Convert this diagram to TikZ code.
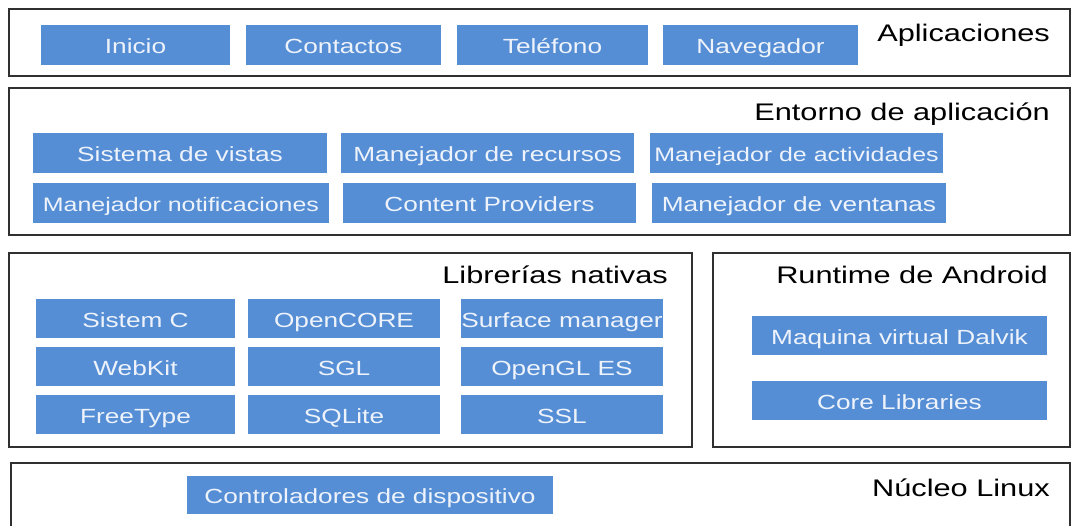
\documentclass[tikz,border=0pt]{standalone}
\usepackage{fontspec}
\usepackage{tikz}
\usetikzlibrary{positioning}
\newfontfamily\archfont{Liberation Sans}[FakeStretch=1.28]
\newcommand{\blkfont}{\archfont\fontsize{20.5}{22}\selectfont}
\newcommand{\tightfont}{\archfont\fontsize{19.5}{21}\selectfont}
\newcommand{\layerfont}{\archfont\fontsize{24}{27}\selectfont}
\definecolor{boxblue}{HTML}{558ED5}
\definecolor{boxtext}{HTML}{EEF3FB}
\definecolor{framegray}{HTML}{303030}

\begin{document}
\begin{tikzpicture}[x=1pt,y=-1pt,
	frame/.style={draw=framegray,line width=2pt},
	blk/.style={fill=boxblue,text=boxtext,inner sep=0pt,font=\blkfont,
		text height=21pt,text depth=4pt,minimum height=40pt},
	layer/.style={anchor=base east,inner sep=0pt,font=\layerfont}]
\useasboundingbox (0,0) rectangle (1071,525);
% capas
\draw[frame] (9,9) rectangle (1070,76);
\draw[frame] (9,88) rectangle (1070,235);
\draw[frame] (9,253) rectangle (692,447);
\draw[frame] (713,253) rectangle (1070,447);
\draw[frame] (11,463) rectangle (1070,545);
% aplicaciones
\node[layer] (aplic) at (1050,41) {Aplicaciones};
\foreach \name/\cx/\w/\txt in {inicio/135.5/189/Inicio,contactos/343.5/195/Contactos,
	telefono/552.5/191/Teléfono,navegador/760.5/195/Navegador}
	\node[blk,minimum width=\w pt] (\name) at (\cx,45) {\txt};
% entorno de aplicacion
\node[layer] (entorno) at (1050,120) {Entorno de aplicación};
\node[blk,minimum width=294pt] (vistas) at (180,153) {Sistema de vistas};
\node[blk,minimum width=293pt] (recursos) at (487.5,153) {Manejador de recursos};
\node[blk,minimum width=293pt,font=\tightfont] (actividades) at (796.5,153) {Manejador de actividades};
\node[blk,minimum width=296pt,font=\tightfont] (notif) at (181,203) {Manejador notificaciones};
\node[blk,minimum width=293pt] (providers) at (489.5,203) {Content Providers};
\node[blk,minimum width=294pt] (ventanas) at (799,203) {Manejador de ventanas};
% librerias nativas
\node[layer] (librerias) at (668,283) {Librerías nativas};
\foreach \name/\cx/\cy/\w/\txt in {sistc/135.5/318.5/199/Sistem C,opencore/344/318.5/192/OpenCORE,
	surface/562/318.5/202/Surface manager,webkit/135.5/366.5/199/WebKit,sgl/344/366.5/192/SGL,
	opengl/562/366.5/202/OpenGL ES,freetype/135.5/414.5/199/FreeType,sqlite/344/414.5/192/SQLite,
	ssl/562/414.5/202/SSL}
	\node[blk,minimum width=\w pt,minimum height=39pt] (\name) at (\cx,\cy) {\txt};
% runtime
\node[layer] (runtime) at (1048,283) {Runtime de Android};
\node[blk,minimum width=295pt,minimum height=39pt] (dalvik) at (899.5,335.5) {Maquina virtual Dalvik};
\node[blk,minimum width=295pt,minimum height=39pt] (corelib) at (899.5,400.5) {Core Libraries};
% nucleo
\node[layer] (nucleo) at (1050,496) {Núcleo Linux};
\node[blk,minimum width=366pt,minimum height=38pt] (drivers) at (370,495) {Controladores de dispositivo};
\end{tikzpicture}
\end{document}
